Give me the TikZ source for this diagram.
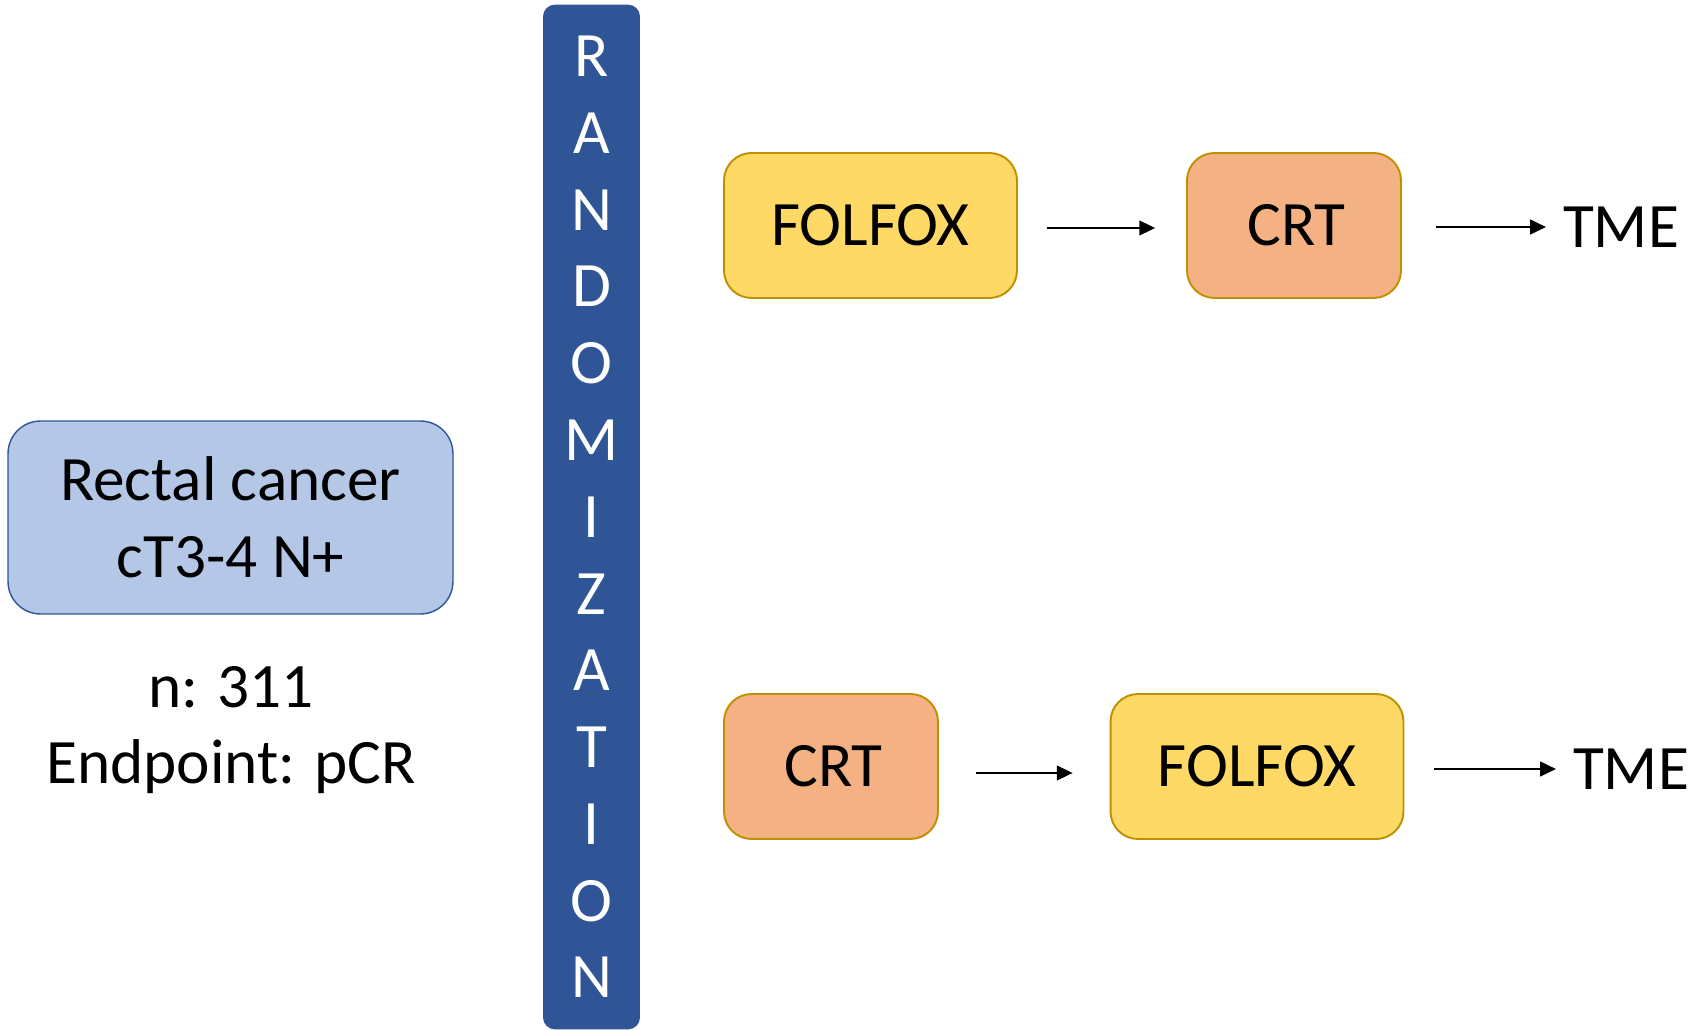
\documentclass[tikz,border=0pt]{standalone}
\usepackage{fontspec}
\setmainfont{Carlito}
\usetikzlibrary{arrows.meta}
\definecolor{pale}{HTML}{B4C7E7}
\definecolor{navy}{HTML}{2F5597}
\definecolor{chemo}{HTML}{FFD966}
\definecolor{radio}{HTML}{F4B183}
\definecolor{gold}{HTML}{BF9000}
\begin{document}
\begin{tikzpicture}[x=0.02cm,y=-0.02cm,line join=round,
		>={Triangle[length=9pt,width=8.5pt]},
		font=\fontsize{36}{43.7}\selectfont,
		arm/.style={draw=gold,line width=1.1pt,rounded corners=0.55cm,minimum height=2.9cm,inner sep=0pt},
		folfox/.style={arm,fill=chemo,minimum width=5.86cm},
		crt/.style={arm,fill=radio,minimum width=4.28cm},
		link/.style={->,line width=0.85pt}]
	\useasboundingbox (0,0) rectangle (1691,1030);
	% patients
	\node[draw=navy,fill=pale,line width=0.8pt,rounded corners=0.65cm,minimum width=8.9cm,minimum height=3.86cm,align=center] (pat) at (230.5,517.5) {Rectal cancer\\cT3-4 N+};
	\node[align=center] (info) at (231,730) {n: 311\\Endpoint: pCR};
	% randomization bar
	\node[fill=navy,text=white,rounded corners=0.24cm,minimum width=1.94cm,minimum height=20.5cm,align=center] (rand) at (591.5,517) {R\\A\\N\\D\\O\\M\\I\\Z\\A\\T\\I\\O\\N};
	% upper arm
	\node[folfox] (fa) at (870.5,225.5) {FOLFOX};
	\node[crt] (ca) at (1294,225.5) {\hspace*{0.1cm}CRT};
	\node (ta) at (1621,227) {TME};
	\draw[link,shorten <=0.58cm,shorten >=0.62cm] ([yshift=-0.05cm]fa.east) -- ([yshift=-0.05cm]ca.west);
	\draw[link,shorten <=0.68cm,shorten >=0.22cm] (ca.east |- ta) -- (ta);
	% lower arm
	\node[crt] (cb) at (831,766.5) {\hspace*{0.1cm}CRT};
	\node[folfox] (fb) at (1257,766.5) {FOLFOX};
	\node (tb) at (1631,769) {TME};
	\draw[link,shorten <=0.74cm,shorten >=0.74cm] ([yshift=-0.13cm]cb.east) -- ([yshift=-0.13cm]fb.west);
	\draw[link,shorten <=0.6cm,shorten >=0.22cm] (fb.east |- tb) -- (tb);
\end{tikzpicture}
\end{document}
